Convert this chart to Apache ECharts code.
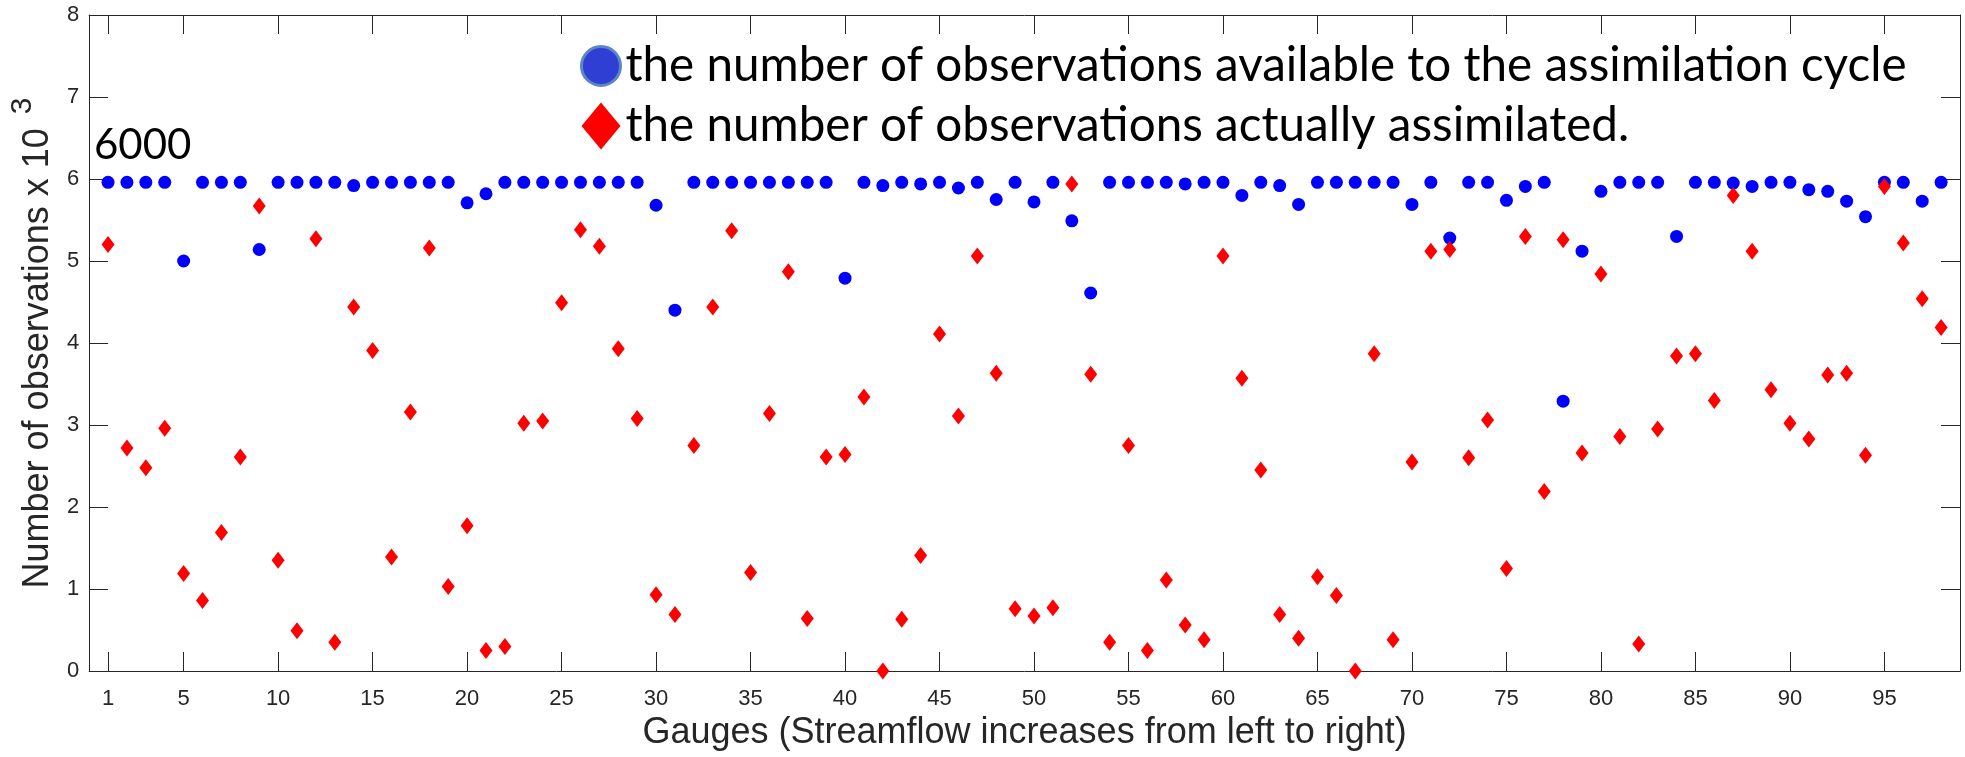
<!DOCTYPE html>
<html>
<head>
<meta charset="utf-8">
<script src="https://cdn.jsdelivr.net/npm/echarts@6/dist/echarts.min.js"></script>
<style>
html,body{margin:0;padding:0;background:#fff;}
#chart{width:1965px;height:757px;}
</style>
</head>
<body>
<div id="chart"></div>
<script>
// Gauge numbers (categories along x)
const gauges = Array.from({length: 98}, (_, i) => i + 1);
// Number of observations available to the assimilation cycle (x 10^3)
const available = [
  5.96, 5.96, 5.96, 5.96, 5.00, 5.96, 5.96, 5.96, 5.14, 5.96,
  5.96, 5.96, 5.96, 5.92, 5.96, 5.96, 5.96, 5.96, 5.96, 5.71,
  5.82, 5.96, 5.96, 5.96, 5.96, 5.96, 5.96, 5.96, 5.96, 5.68,
  4.40, 5.96, 5.96, 5.96, 5.96, 5.96, 5.96, 5.96, 5.96, 4.79,
  5.96, 5.92, 5.96, 5.94, 5.96, 5.89, 5.96, 5.75, 5.96, 5.72,
  5.96, 5.49, 4.61, 5.96, 5.96, 5.96, 5.96, 5.94, 5.96, 5.96,
  5.80, 5.96, 5.92, 5.69, 5.96, 5.96, 5.96, 5.96, 5.96, 5.69,
  5.96, 5.28, 5.96, 5.96, 5.74, 5.91, 5.96, 3.29, 5.12, 5.85,
  5.96, 5.96, 5.96, 5.30, 5.96, 5.96, 5.95, 5.91, 5.96, 5.96,
  5.87, 5.85, 5.73, 5.54, 5.96, 5.96, 5.73, 5.96
];
// Number of observations actually assimilated (x 10^3)
const assimilated = [
  5.20, 2.72, 2.48, 2.96, 1.19, 0.86, 1.69, 2.61, 5.67, 1.35,
  0.49, 5.27, 0.35, 4.44, 3.91, 1.39, 3.16, 5.16, 1.03, 1.77,
  0.25, 0.30, 3.02, 3.05, 4.49, 5.38, 5.18, 3.93, 3.08, 0.93,
  0.69, 2.75, 4.44, 5.37, 1.20, 3.14, 4.87, 0.64, 2.61, 2.64,
  3.34, 0.00, 0.63, 1.41, 4.11, 3.11, 5.06, 3.63, 0.76, 0.67,
  0.77, 5.94, 3.62, 0.35, 2.75, 0.25, 1.11, 0.56, 0.38, 5.06,
  3.57, 2.45, 0.69, 0.40, 1.15, 0.92, 0.00, 3.87, 0.38, 2.55,
  5.12, 5.14, 2.60, 3.06, 1.25, 5.30, 2.19, 5.26, 2.66, 4.84,
  2.86, 0.33, 2.95, 3.84, 3.87, 3.30, 5.80, 5.12, 3.43, 3.02,
  2.83, 3.61, 3.63, 2.63, 5.91, 5.22, 4.54, 4.19
];
const xTickValues = [1, 5, 10, 15, 20, 25, 30, 35, 40, 45, 50, 55, 60, 65, 70, 75, 80, 85, 90, 95];
const yTickMin = 0, yTickMax = 8, yTickStep = 1;
const seriesNames = [
  'the number of observations available to the assimilation cycle',
  'the number of observations actually assimilated.'
];
const annotationText = '6000';
const xName = 'Gauges (Streamflow increases from left to right)';
const yName = 'Number of observations x 10 ';
const ySup = '3';

// fit legend font width to the reference
const cv = document.createElement('canvas').getContext('2d');
cv.font = '100px Lato';
const legendFont = Math.round(100 * 1280 / cv.measureText(seriesNames[0]).width * 10) / 10;

const axisColor = '#262626';
const baseFont = 'Liberation Sans';

const chart = echarts.init(document.getElementById('chart'));
chart.setOption({
  animation: false,
  backgroundColor: '#fff',
  grid: {left: 88, right: 5, top: 15, bottom: 86, containLabel: false},
  legend: {
    orient: 'vertical',
    left: 575,
    top: 37,
    itemWidth: 39,
    itemHeight: 47,
    itemGap: 12,
    itemTextGap: 20,
    selectedMode: false,
    textStyle: {fontFamily: 'Lato', fontSize: legendFont, color: '#000'},
    data: [
      {name: seriesNames[0], icon: 'circle',
       itemStyle: {color: '#2f3fd4', borderColor: '#5b87c5', borderWidth: 3}},
      {name: seriesNames[1], icon: 'diamond',
       itemStyle: {color: '#ff0000', borderWidth: 0}}
    ]
  },
  graphic: [{
    type: 'text', left: 94, top: 124, z: 10,
    style: {text: annotationText, fontFamily: 'Lato', fontSize: 42, fill: '#000'}
  }],
  xAxis: [{
    type: 'value', min: 0, max: 99, position: 'bottom',
    name: xName, nameLocation: 'middle', nameGap: 44,
    nameTextStyle: {fontFamily: baseFont, fontSize: 36, color: axisColor},
    axisLine: {show: true, onZero: false, lineStyle: {color: axisColor, width: 1}},
    axisTick: {show: true, inside: true, length: 19, customValues: xTickValues, lineStyle: {color: axisColor}},
    axisLabel: {show: true, customValues: xTickValues, fontFamily: baseFont, fontSize: 22, color: axisColor, margin: 17},
    splitLine: {show: false}
  }, {
    type: 'value', min: 0, max: 99, position: 'top',
    axisLine: {show: true, onZero: false, lineStyle: {color: axisColor, width: 1}},
    axisTick: {show: true, inside: true, length: 19, customValues: xTickValues, lineStyle: {color: axisColor}},
    axisLabel: {show: false},
    splitLine: {show: false}
  }],
  yAxis: [{
    type: 'value', min: yTickMin, max: yTickMax, interval: yTickStep, position: 'left',
    name: '{a|' + yName + '}{b|' + ySup + '}',
    nameLocation: 'middle', nameRotate: 90, nameGap: 30,
    nameTextStyle: {
      color: axisColor,
      rich: {
        a: {fontFamily: baseFont, fontSize: 36, color: axisColor, verticalAlign: 'bottom'},
        b: {fontFamily: baseFont, fontSize: 30, color: axisColor, verticalAlign: 'bottom', padding: [0, 0, 18, 4]}
      }
    },
    axisLine: {show: true, onZero: false, lineStyle: {color: axisColor, width: 1}},
    axisTick: {show: true, inside: true, length: 19, lineStyle: {color: axisColor}},
    axisLabel: {show: true, fontFamily: baseFont, fontSize: 22, color: axisColor, margin: 10},
    splitLine: {show: false}
  }, {
    type: 'value', min: yTickMin, max: yTickMax, interval: yTickStep, position: 'right',
    axisLine: {show: true, onZero: false, lineStyle: {color: axisColor, width: 1}},
    axisTick: {show: true, inside: true, length: 19, lineStyle: {color: axisColor}},
    axisLabel: {show: false},
    splitLine: {show: false}
  }],
  series: [{
    name: seriesNames[0], type: 'scatter', xAxisIndex: 0, yAxisIndex: 0,
    symbol: 'circle', symbolSize: 13,
    itemStyle: {color: '#0000ff', opacity: 1},
    emphasis: {disabled: true},
    data: gauges.map((g, i) => [g, available[i]]),
    z: 2
  }, {
    name: seriesNames[1], type: 'scatter', xAxisIndex: 0, yAxisIndex: 0,
    symbol: 'diamond', symbolSize: [13, 17],
    itemStyle: {color: '#ff0000', opacity: 1},
    emphasis: {disabled: true},
    data: gauges.map((g, i) => [g, assimilated[i]]),
    z: 3
  }]
});
</script>
</body>
</html>
